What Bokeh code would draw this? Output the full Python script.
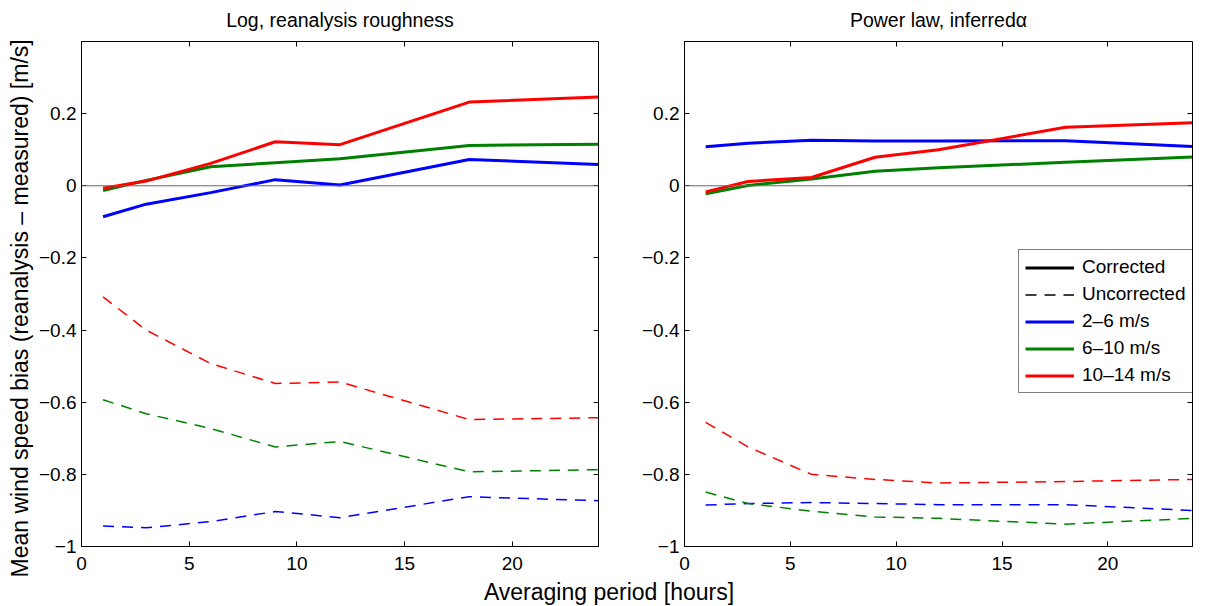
from bokeh.plotting import figure
from bokeh.models import (Range1d, FixedTicker, LinearAxis, Span, Legend, LegendItem, Div, Title)
from bokeh.layouts import row, column
from bokeh.embed import file_html
from bokeh.resources import INLINE

# ---------------- data ----------------
hours = [1, 3, 6, 9, 12, 18, 24]

log_corr_2_6 = [-0.086, -0.051, -0.019, 0.017, 0.002, 0.073, 0.059]
log_corr_6_10 = [-0.013, 0.015, 0.053, 0.064, 0.075, 0.112, 0.115]
log_corr_10_14 = [-0.007, 0.013, 0.062, 0.122, 0.114, 0.232, 0.246]
log_unc_2_6 = [-0.943, -0.948, -0.931, -0.903, -0.920, -0.862, -0.873]
log_unc_6_10 = [-0.593, -0.632, -0.673, -0.724, -0.709, -0.793, -0.787]
log_unc_10_14 = [-0.308, -0.400, -0.493, -0.548, -0.544, -0.648, -0.643]

pow_corr_2_6 = [0.108, 0.118, 0.126, 0.124, 0.124, 0.125, 0.109]
pow_corr_6_10 = [-0.022, 0.001, 0.019, 0.040, 0.050, 0.065, 0.080]
pow_corr_10_14 = [-0.017, 0.012, 0.023, 0.079, 0.100, 0.162, 0.175]
pow_unc_2_6 = [-0.885, -0.881, -0.878, -0.881, -0.884, -0.884, -0.900]
pow_unc_6_10 = [-0.849, -0.881, -0.902, -0.918, -0.922, -0.938, -0.922]
pow_unc_10_14 = [-0.656, -0.724, -0.800, -0.814, -0.824, -0.820, -0.814]

x_ticks = [0, 5, 10, 15, 20]
y_ticks = [-1, -0.8, -0.6, -0.4, -0.2, 0, 0.2]
y_tick_labels = ["\u22121", "\u22120.8", "\u22120.6", "\u22120.4", "\u22120.2", "0", "0.2"]

titles = ["Log, reanalysis roughness", "Power law, inferred\u03b1"]
band_labels = ["2\u20136 m/s", "6\u201310 m/s", "10\u201314 m/s"]
style_labels = ["Corrected", "Uncorrected"]
colors = ["#0000ff", "#008000", "#ff0000"]
x_label = "Averaging period [hours]"
y_label = "Mean wind speed bias (reanalysis \u2013 measured) [m/s]"

FONT = "Liberation Sans"
TICK_SIZE = "19px"


def style_axis(ax, labels=True):
    ax.axis_line_color = "black"
    ax.axis_line_width = 1
    ax.major_tick_line_color = "black"
    ax.major_tick_in = 5
    ax.major_tick_out = 0
    ax.minor_tick_line_color = None
    ax.major_label_text_font = FONT
    if labels:
        ax.major_label_text_font_size = TICK_SIZE
        ax.major_label_text_color = "black"
    else:
        ax.major_label_text_font_size = "1px"
        ax.major_label_text_color = None
        ax.major_label_standoff = 0


def make_panel(title, border_left, frame_w, border_right, corr, unc):
    p = figure(width=border_left + frame_w + border_right, height=578,
               frame_width=frame_w, frame_height=505,
               min_border_left=border_left, min_border_right=border_right,
               min_border_top=41, min_border_bottom=32,
               x_range=Range1d(0, 24), y_range=Range1d(-1, 0.4),
               output_backend="svg", toolbar_location=None)
    p.grid.visible = False
    p.outline_line_color = None
    p.background_fill_color = "white"
    p.border_fill_color = "white"

    p.xaxis.ticker = FixedTicker(ticks=x_ticks)
    p.yaxis.ticker = FixedTicker(ticks=y_ticks)
    p.yaxis.major_label_overrides = {t: l for t, l in zip(y_ticks, y_tick_labels)}
    for ax in p.xaxis + p.yaxis:
        style_axis(ax)
    p.xaxis.major_label_standoff = 10
    p.yaxis.major_label_standoff = 5

    top = LinearAxis(ticker=FixedTicker(ticks=x_ticks))
    style_axis(top, labels=False)
    top.axis_label = title
    top.axis_label_text_font = FONT
    top.axis_label_text_font_size = "19.5px"
    top.axis_label_text_font_style = "normal"
    top.axis_label_text_color = "black"
    top.axis_label_standoff = 11
    p.add_layout(top, "above")
    right = LinearAxis(ticker=FixedTicker(ticks=y_ticks))
    style_axis(right, labels=False)
    p.add_layout(right, "right")

    p.add_layout(Span(location=0, dimension="width", line_color="#666666", line_width=1))

    rends = []
    for ys, c in zip(unc, colors):
        p.line(hours, ys, line_color=c, line_width=1.5, line_dash="11 8")
    for ys, c in zip(corr, colors):
        rends.append(p.line(hours, ys, line_color=c, line_width=3))
    return p, rends


p1, _ = make_panel(titles[0], 81, 517, 40,
                   [log_corr_2_6, log_corr_6_10, log_corr_10_14],
                   [log_unc_2_6, log_unc_6_10, log_unc_10_14])
p2, rends2 = make_panel(titles[1], 45, 508, 34,
                        [pow_corr_2_6, pow_corr_6_10, pow_corr_10_14],
                        [pow_unc_2_6, pow_unc_6_10, pow_unc_10_14])

ytitle = Title(text=y_label, align="left", offset=-31, standoff=5,
               text_font=FONT, text_font_size="23px", text_font_style="normal",
               text_color="black")
p1.add_layout(ytitle, "left")

# legend-only renderers (no visible data)
nan_vals = [float("nan")] * len(hours)
r_corr = p2.line(hours, nan_vals, line_color="black", line_width=3)
r_unc = p2.line(hours, nan_vals, line_color="black", line_width=1.5, line_dash="11 8")

items = [LegendItem(label=style_labels[0], renderers=[r_corr]),
         LegendItem(label=style_labels[1], renderers=[r_unc])]
for lab, r in zip(band_labels, rends2):
    items.append(LegendItem(label=lab, renderers=[r]))

legend = Legend(items=items, location=(334, 153), margin=0, padding=6,
                spacing=5, glyph_width=49, glyph_height=21, label_height=21,
                label_standoff=8, label_text_font=FONT, label_text_font_size="19px",
                label_text_color="black",
                border_line_color="black", border_line_width=1,
                background_fill_color="white", background_fill_alpha=1)
p2.add_layout(legend)

xdiv = Div(text=x_label, width=1218, height=28, margin=0,
           styles={"text-align": "center", "font-family": FONT,
                   "font-size": "23px", "line-height": "28px", "color": "black"})

layout = column(row(p1, p2, spacing=0), xdiv, spacing=0)

open("out.html", "w").write(file_html(layout, INLINE))
